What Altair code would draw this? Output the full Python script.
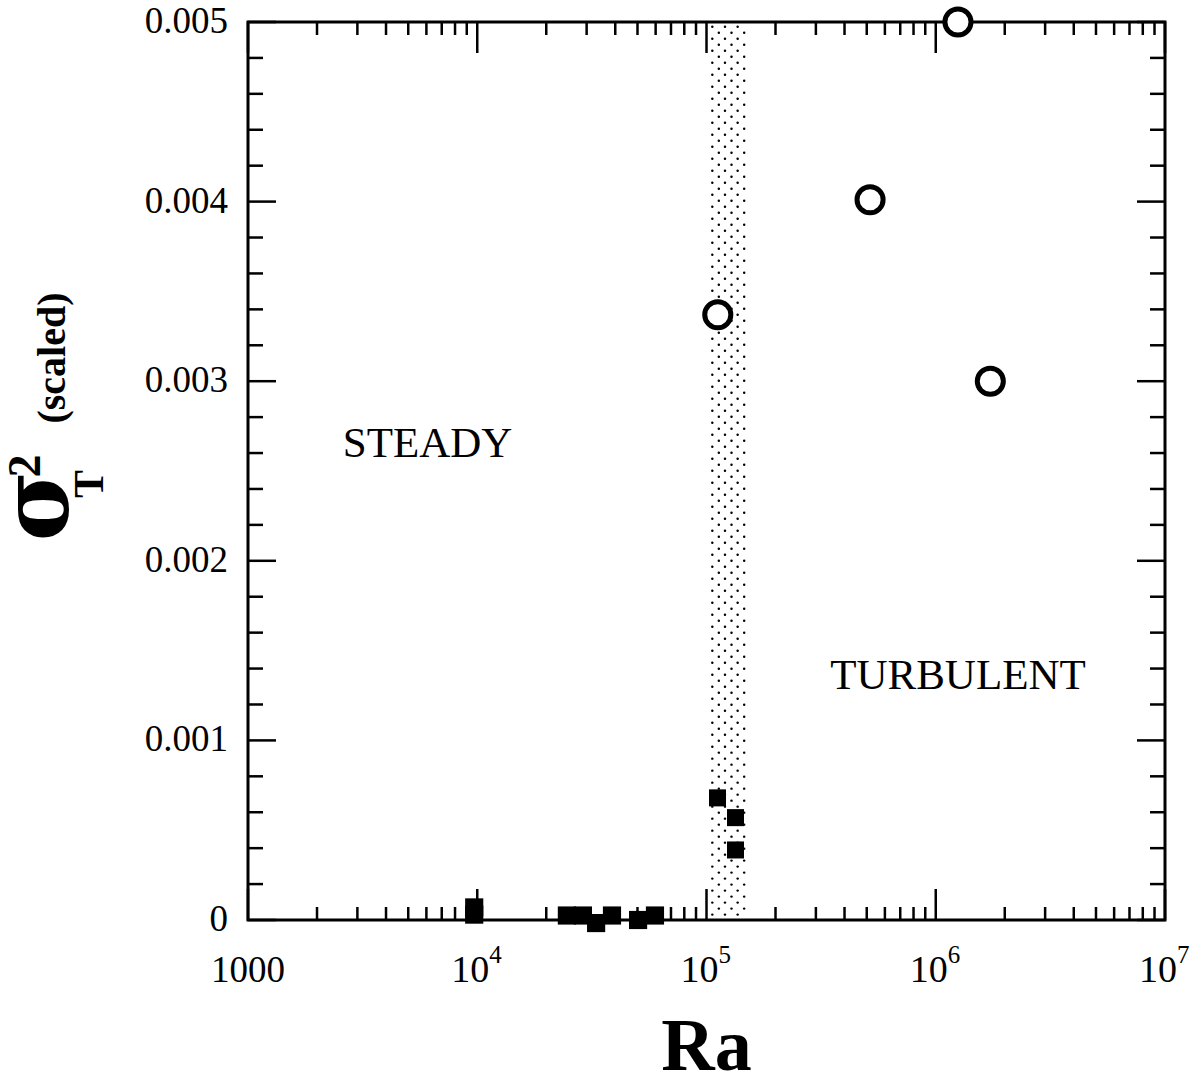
import altair as alt
import numpy as np
import pandas as pd

# Steady regime (filled squares)
steady_ra = [9.7e3, 9.7e3, 2.46e4, 2.89e4, 3.30e4, 3.87e4, 5.03e4, 5.96e4]
steady_var = [0.00007, 0.00003, 0.000025, 0.000025, -0.000017, 0.000025, 0.0, 0.000025]

# Onset of time dependence (small filled squares)
onset_ra = [1.117e5, 1.338e5, 1.338e5]
onset_var = [0.00068, 0.00057, 0.00039]

# Turbulent regime (open circles)
turb_ra = [1.12e5, 5.17e5, 1.25e6, 1.73e6]
turb_var = [0.00337, 0.00401, 0.005, 0.003]

# Transition band
band_lo, band_hi = 1.02e5, 1.5e5

# Axis ticks
x_major = [1e3, 1e4, 1e5, 1e6, 1e7]
x_minor = [m * d for d in [1e3, 1e4, 1e5, 1e6] for m in range(2, 10)]
y_major = [0.0, 0.001, 0.002, 0.003, 0.004, 0.005]
y_minor = [round(0.0002 * k, 4) for k in range(26) if k % 5 != 0]
y_labels = ["0", "0.001", "0.002", "0.003", "0.004", "0.005"]

x_label_vals = [1e3, 1e4, 1e5, 1e6, 1e7]
x_label_base = ["1000", "10", "10", "10", "10"]
x_label_exp = ["", "4", "5", "6", "7"]

regions = ["STEADY", "TURBULENT"]
region_ra = [6070, 1.25e6]
region_var = [0.00265, 0.00136]

W, H = 917, 898
SERIF = "Liberation Serif"
MAJ, MIN = 31, 13
YMAJ, YMIN = 28, 15

xs = alt.Scale(type="log", domain=[1000, 1e7], nice=False)
ys = alt.Scale(domain=[0, 0.005], nice=False, zero=False)

# stipple texture filling the transition band
ll, lh = np.log10(band_lo), np.log10(band_hi)
dots = []
for i, v in enumerate(np.arange(0.00003, 0.005, 0.0000334)):
    fr = [0.1, 0.43, 0.76] if i % 2 == 0 else [0.27, 0.6, 0.93]
    for f in fr:
        dots.append({"ra": 10 ** (ll + f * (lh - ll)), "var": float(v)})
dots = pd.DataFrame(dots)

stipple = alt.Chart(dots).mark_point(
    shape="circle", filled=True, size=6, color="black", opacity=1
).encode(
    x=alt.X("ra:Q", scale=xs, axis=None),
    y=alt.Y("var:Q", scale=ys, axis=None),
)

xmaj = pd.DataFrame({"v": x_major})
xmin = pd.DataFrame({"v": x_minor})
ymaj = pd.DataFrame({"v": y_major, "t": y_labels})
ymin = pd.DataFrame({"v": y_minor})


def xticks(df, length):
    bottom = alt.Chart(df).mark_rule(color="black", strokeWidth=2.5).encode(
        x=alt.X("v:Q", scale=xs, axis=None), y=alt.value(H), y2=alt.value(H - length)
    )
    top = alt.Chart(df).mark_rule(color="black", strokeWidth=2.5).encode(
        x=alt.X("v:Q", scale=xs, axis=None), y=alt.value(0), y2=alt.value(length)
    )
    return bottom + top


def yticks(df, length):
    left = alt.Chart(df).mark_rule(color="black", strokeWidth=2.5).encode(
        y=alt.Y("v:Q", scale=ys, axis=None), x=alt.value(0), x2=alt.value(length)
    )
    right = alt.Chart(df).mark_rule(color="black", strokeWidth=2.5).encode(
        y=alt.Y("v:Q", scale=ys, axis=None), x=alt.value(W), x2=alt.value(W - length)
    )
    return left + right


# y tick labels
ylab = alt.Chart(ymaj).mark_text(
    font=SERIF, fontSize=37, align="right", baseline="middle", color="black"
).encode(y=alt.Y("v:Q", scale=ys, axis=None), x=alt.value(-20), text="t:N")

steady = alt.Chart(pd.DataFrame({"ra": steady_ra, "var": steady_var})).mark_point(
    shape="square", filled=True, size=330, color="black", opacity=1
).encode(x=alt.X("ra:Q", scale=xs, axis=None), y=alt.Y("var:Q", scale=ys, axis=None))

onset = alt.Chart(pd.DataFrame({"ra": onset_ra, "var": onset_var})).mark_point(
    shape="square", filled=True, size=290, color="black", opacity=1
).encode(x=alt.X("ra:Q", scale=xs, axis=None), y=alt.Y("var:Q", scale=ys, axis=None))

turb = alt.Chart(pd.DataFrame({"ra": turb_ra, "var": turb_var})).mark_point(
    shape="circle", filled=True, fill="white", stroke="black", strokeWidth=5,
    size=680, opacity=1,
).encode(x=alt.X("ra:Q", scale=xs, axis=None), y=alt.Y("var:Q", scale=ys, axis=None))

region_text = alt.Chart(
    pd.DataFrame({"ra": region_ra, "var": region_var, "t": regions})
).mark_text(font=SERIF, fontSize=43, align="center", baseline="middle", color="black").encode(
    x=alt.X("ra:Q", scale=xs, axis=None), y=alt.Y("var:Q", scale=ys, axis=None), text="t:N"
)

xl = pd.DataFrame({"v": x_label_vals, "b": x_label_base, "e": x_label_exp})
lab_1000 = alt.Chart(xl.iloc[:1]).mark_text(
    font=SERIF, fontSize=37, align="center", baseline="alphabetic", color="black"
).encode(x=alt.X("v:Q", scale=xs, axis=None), y=alt.value(H + 62), text="b:N")
lab_base = alt.Chart(xl.iloc[1:]).mark_text(
    font=SERIF, fontSize=38, align="right", baseline="alphabetic", dx=12, color="black"
).encode(x=alt.X("v:Q", scale=xs, axis=None), y=alt.value(H + 62), text="b:N")
lab_exp = alt.Chart(xl.iloc[1:]).mark_text(
    font=SERIF, fontSize=25, align="left", baseline="alphabetic", dx=12, color="black"
).encode(x=alt.X("v:Q", scale=xs, axis=None), y=alt.value(H + 43), text="e:N")

x_title = alt.Chart(pd.DataFrame({"t": ["Ra"]})).mark_text(
    font=SERIF, fontSize=74, fontWeight="bold", align="center", baseline="alphabetic",
    color="black",
).encode(x=alt.value(W / 2), y=alt.value(1048), text="t:N")

# y title: sigma^2_T (scaled), rotated
ttl = pd.DataFrame({
    "t": ["σ", "2", "T", "(scaled)"],
    "f": ["DejaVu Serif", SERIF, SERIF, SERIF],
    "px": [-180, -208, -145, -183],
    "py": [484, 444, 462, 336],
    "fs": [96, 46, 42, 40],
})


def title_part(i):
    r = ttl.iloc[[i]]
    return alt.Chart(r).mark_text(
        font=str(r["f"].iloc[0]), fontWeight="bold", fontSize=float(r["fs"].iloc[0]),
        angle=270, align="center", baseline="alphabetic", color="black",
    ).encode(x=alt.value(float(r["px"].iloc[0])), y=alt.value(float(r["py"].iloc[0])), text="t:N")


y_title = alt.layer(*[title_part(i) for i in range(len(ttl))])

chart = alt.layer(
    stipple,
    xticks(xmaj, MAJ),
    xticks(xmin, MIN),
    yticks(ymaj, YMAJ),
    yticks(ymin, YMIN),
    ylab,
    steady,
    onset,
    turb,
    region_text,
    lab_1000,
    lab_base,
    lab_exp,
    x_title,
    y_title,
).properties(
    width=W,
    height=H,
    autosize=alt.AutoSizeParams(type="none"),
    padding={"left": 248, "top": 22, "right": 36, "bottom": 166},
).configure_view(
    stroke="black", strokeWidth=3
)

chart.save("out.html", embed_options={"renderer": "svg", "actions": False})
